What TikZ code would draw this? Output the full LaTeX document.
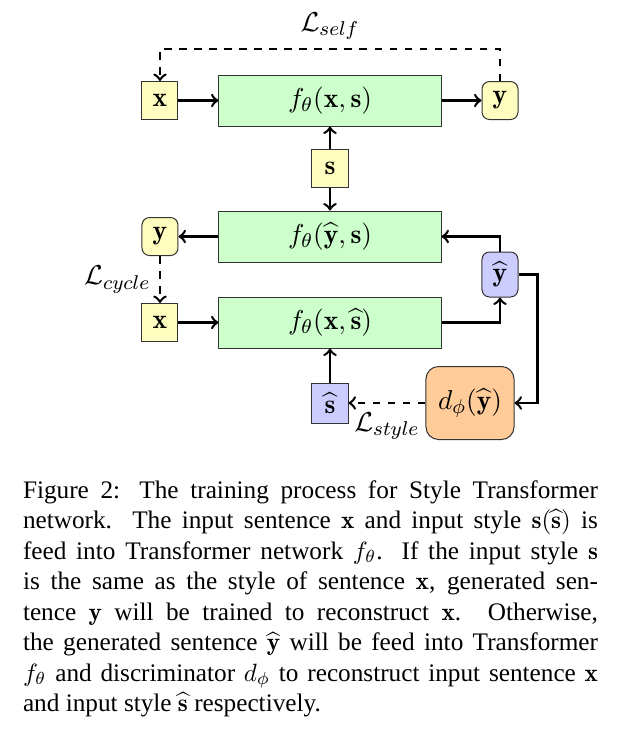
\documentclass[tikz,border=0pt]{standalone}
\usepackage{amsmath}
\usepackage{fontspec}
\usepackage{tikz}
\usetikzlibrary{calc,arrows,positioning}
\newfontfamily\capfont{Liberation Serif}

\begin{document}
\begin{tikzpicture}[x=0.4pt, y=-0.4pt, node distance=16pt, auto,
    font=\fontsize{11}{13}\selectfont,
    net/.style={draw=black!80, fill=green!20, minimum width=88.8pt, minimum height=20.4pt, inner sep=0pt},
    inbox/.style={draw=black!80, fill=yellow!25, minimum width=14.4pt, minimum height=15.2pt, inner sep=0pt},
    outbox/.style={inbox, rounded corners=3pt},
    genbox/.style={draw=black!80, fill=blue!20, minimum width=14.4pt, minimum height=18pt, inner sep=0pt, rounded corners=3pt},
    disc/.style={draw=black!80, fill=orange!40, minimum width=35.2pt, minimum height=29.2pt, inner sep=0pt, rounded corners=5pt},
    conn/.style={line width=1pt}]
    \useasboundingbox (0,0) rectangle (621,729);

    \node[net] (F1) at (330,100.5) {$f_\theta(\mathbf{x},\mathbf{s})$};
    \node[inbox, left=of F1] (X1) {$\mathbf{x}$};
    \node[outbox, right=of F1] (Y1) {$\mathbf{y}$};
    \node[inbox, below=8.8pt of F1] (S) {$\mathbf{s}$};
    \node[net, below=9.2pt of S] (F2) {$f_\theta(\widehat{\mathbf{y}},\mathbf{s})$};
    \node[outbox, left=of F2] (Y2) {$\mathbf{y}$};
    \node[net, below=13.6pt of F2] (F3) {$f_\theta(\mathbf{x},\widehat{\mathbf{s}})$};
    \node[inbox, left=of F3] (X2) {$\mathbf{x}$};
    \node[genbox] (YH) at (500,274.5) {$\widehat{\mathbf{y}}$};
    \node[disc] (D) at (470,403) {$d_\phi(\widehat{\mathbf{y}})$};
    \node[genbox, rounded corners=0pt, minimum height=16pt] (SH) at (330,403) {$\widehat{\mathbf{s}}$};

    \path [->, conn]
        (X1) edge (F1)
        (F1) edge (Y1)
        (S) edge (F1)
        (S) edge (F2)
        (F2) edge (Y2)
        (X2) edge (F3)
        (SH) edge (F3)
    ;
    \draw[->, conn] (YH) |- (F2);
    \draw[->, conn] (F3) -| (YH);
    \draw[->, conn] (YH.east) -- ++(19,0) |- (D);

    % losses
    \draw[->, conn, dashed] (Y1.north) -- ++(0,-32) -| node[pos=0.25, above] {$\mathcal{L}_{self}$} (X1);
    \draw[->, conn, dashed] (Y2) -- node[left] {$\mathcal{L}_{cycle}$} (X2);
    \draw[->, conn, dashed] (D) -- node[below] {$\mathcal{L}_{style}$} (SH);

    \node[anchor=base west, text width=230pt, align=justify, inner sep=0pt,
        font=\capfont\fontsize{10.1}{12.2}\selectfont] (cap) at (22.5,498)
        {Figure 2: The training process for Style Transformer\linebreak
        network. The input sentence $\mathbf{x}$ and input style $\mathbf{s}(\widehat{\mathbf{s}})$ is\linebreak
        feed into Transformer network $f_\theta$. If the input style $\mathbf{s}$\linebreak
        is the same as the style of sentence $\mathbf{x}$, generated sen-\linebreak
        tence $\mathbf{y}$ will be trained to reconstruct $\mathbf{x}$. Otherwise,\linebreak
        the generated sentence $\widehat{\mathbf{y}}$ will be feed into Transformer\linebreak
        $f_\theta$ and discriminator $d_\phi$ to reconstruct input sentence $\mathbf{x}$\linebreak
        and input style $\widehat{\mathbf{s}}$ respectively.};
\end{tikzpicture}
\end{document}
